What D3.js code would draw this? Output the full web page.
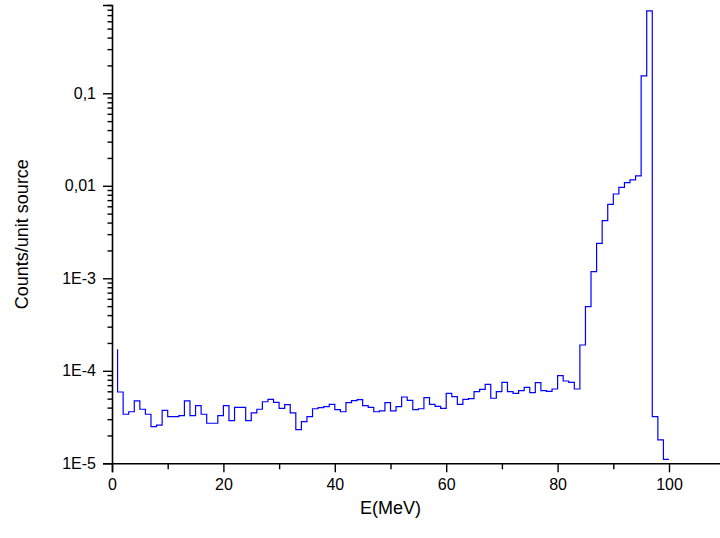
<!DOCTYPE html>
<html>
<head>
<meta charset="utf-8">
<script src="https://cdn.jsdelivr.net/npm/d3@7"></script>
<style>
	body { margin: 0; background: #fff; }
	svg { display: block; font-family: "Liberation Sans", Arial, sans-serif; }
</style>
</head>
<body>
<svg id="chart" width="720" height="538"></svg>
<script>
// Bin upper edges in MeV (1 MeV bins)
const energies = d3.range(1, 101)

// Counts per unit source, one per bin
const counts = [
	1.71e-4, 5.9e-5, 3.39e-5, 3.61e-5, 4.72e-5, 3.84e-5, 3.39e-5, 2.49e-5, 2.59e-5, 3.74e-5,
	3.19e-5, 3.19e-5, 3.27e-5, 4.72e-5, 3.27e-5, 4.2e-5, 3.39e-5, 2.71e-5, 2.71e-5, 3.27e-5,
	4.2e-5, 2.89e-5, 4.03e-5, 4.03e-5, 2.89e-5, 3.5e-5, 3.84e-5, 4.63e-5, 4.92e-5, 4.56e-5,
	3.93e-5, 4.3e-5, 3.5e-5, 2.31e-5, 2.82e-5, 3.19e-5, 3.89e-5, 3.99e-5, 4.09e-5, 4.34e-5,
	3.8e-5, 3.61e-5, 4.52e-5, 4.75e-5, 4.87e-5, 4.2e-5, 4.03e-5, 3.61e-5, 3.68e-5, 4.52e-5,
	3.68e-5, 4.09e-5, 5.21e-5, 4.8e-5, 3.8e-5, 3.89e-5, 5.12e-5, 4.34e-5, 4.13e-5, 3.93e-5,
	5.71e-5, 5.25e-5, 4.34e-5, 4.92e-5, 4.99e-5, 5.94e-5, 6.31e-5, 7.14e-5, 5.05e-5, 5.94e-5,
	7.51e-5, 5.94e-5, 5.71e-5, 6.1e-5, 6.63e-5, 5.8e-5, 7.44e-5, 6.1e-5, 6.0e-5, 6.36e-5,
	8.85e-5, 7.76e-5, 7.51e-5, 6.36e-5, 1.9e-4, 4.93e-4, 1.18e-3, 2.39e-3, 4.2e-3, 6.3e-3,
	8.15e-3, 9.63e-3, 0.0108, 0.0116, 0.0128, 0.154, 0.776, 3.19e-5, 1.79e-5, 1.1e-5
]

const xTicks = [0, 10, 20, 30, 40, 50, 60, 70, 80, 90, 100]
const xTickLabels = ["0", "", "20", "", "40", "", "60", "", "80", "", "100"]
const yTicks = [1e-5, 1e-4, 1e-3, 1e-2, 1e-1]
const yTickLabels = ["1E-5", "1E-4", "1E-3", "0,01", "0,1"]

const xTitle = "E(MeV)"
const yTitle = "Counts/unit source"

let data = energies.map((e, i) => ({e: e, v: counts[i]}))

let svg = d3.select("#chart")

// Plot area: x axis runs off the right edge of the picture
let x = d3.scaleLinear().domain([0, 110]).range([112, 112 + 110 * 5.57])
let y = d3.scaleLog().domain([1e-5, 0.9]).range([463.3, 5])

// Minor ticks on the log axis (2..9 per decade)
let yMinor = []
for (let dec = 1e-5; dec < 1; dec *= 10) {
	for (let m = 2; m <= 9; m++) {
		let v = dec * m
		if (v <= 0.9) yMinor.push(v)
	}
}

// Data line, step style
let line = d3.line()
	.curve(d3.curveStepBefore)
	.x(d => x(d.e))
	.y(d => y(d.v))

svg.append("path")
	.datum(data)
	.attr("d", line)
	.style("fill", "none")
	.style("stroke", "#0000ff")
	.style("stroke-width", 1.2)

// X axis
let xMinorAxis = d3.axisBottom(x)
	.tickValues(xTicks.filter((t, i) => xTickLabels[i] === ""))
	.tickSize(6)
	.tickFormat("")
let xAxis = d3.axisBottom(x)
	.tickValues(xTicks.filter((t, i) => xTickLabels[i] !== ""))
	.tickSize(9)
	.tickPadding(6)
	.tickFormat(d => xTickLabels[xTicks.indexOf(d)])

let gx = svg.append("g")
	.attr("transform", "translate(0," + y(1e-5) + ")")
gx.append("g").call(xMinorAxis).select(".domain").remove()
gx.append("g").call(xAxis)

// Y axis
let yMinorAxis = d3.axisLeft(y)
	.tickValues(yMinor)
	.tickSize(4.5)
	.tickFormat("")
let yAxis = d3.axisLeft(y)
	.tickValues(yTicks)
	.tickSize(9)
	.tickPadding(7)
	.tickFormat(d => yTickLabels[yTicks.indexOf(d)])

let gy = svg.append("g")
	.attr("transform", "translate(" + x(0) + ",0)")
gy.append("g").call(yMinorAxis).select(".domain").remove()
gy.append("g").call(yAxis)

// Common axis styling
svg.selectAll(".domain")
	.attr("stroke", "#000")
	.attr("stroke-width", 1.6)
svg.selectAll(".tick line")
	.attr("stroke", "#000")
	.attr("stroke-width", 1.4)
svg.selectAll(".tick text")
	.attr("fill", "#000")
	.style("font-size", "16px")
	.style("font-family", "'Liberation Sans', Arial, sans-serif")

// Axis titles, centred on the axis length
svg.append("text")
	.attr("x", (x(0) + x(100)) / 2)
	.attr("y", 514)
	.attr("text-anchor", "middle")
	.style("font-size", "18px")
	.text(xTitle)

svg.append("text")
	.attr("transform", "translate(28," + ((y.range()[0] + y.range()[1]) / 2) + ") rotate(-90)")
	.attr("text-anchor", "middle")
	.style("font-size", "18px")
	.text(yTitle)
</script>
</body>
</html>
